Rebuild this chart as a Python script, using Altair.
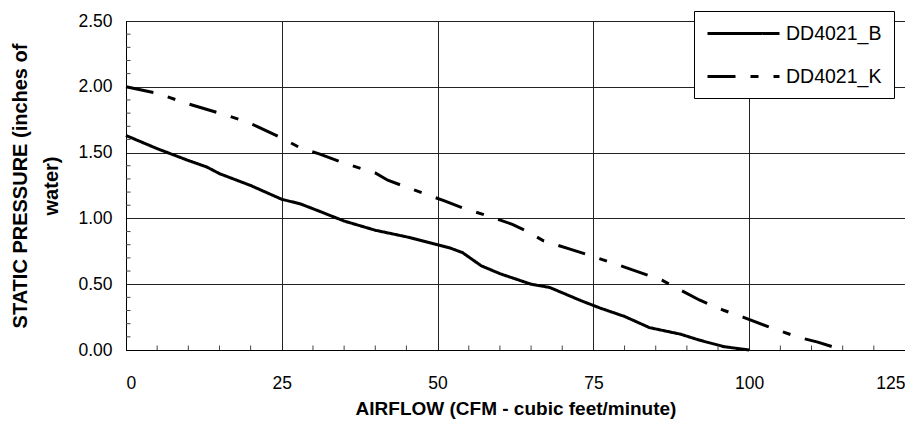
import altair as alt
import pandas as pd

# Series data
b_x = [0, 5, 10, 13, 15, 20, 25, 28, 31, 35, 40, 45, 50, 52, 54, 57, 60, 65, 68, 73, 76, 80, 84, 89, 92, 96, 100]
b_y = [1.63, 1.53, 1.44, 1.39, 1.34, 1.25, 1.145, 1.11, 1.055, 0.98, 0.91, 0.86, 0.80, 0.775, 0.74, 0.64, 0.58,
       0.50, 0.475, 0.375, 0.32, 0.255, 0.17, 0.12, 0.075, 0.025, 0.0]
k_x = [0, 5, 10, 15, 19, 21, 25, 28, 31, 35, 40, 42, 46, 51, 54, 58, 62, 64, 67, 71, 75, 80, 83, 86, 88, 92, 96,
       99, 104, 108, 111, 115]
k_y = [2.0, 1.95, 1.87, 1.80, 1.74, 1.70, 1.61, 1.535, 1.49, 1.42, 1.345, 1.29, 1.22, 1.135, 1.08, 1.02, 0.955,
       0.91, 0.83, 0.77, 0.71, 0.63, 0.58, 0.53, 0.48, 0.38, 0.30, 0.25, 0.16, 0.095, 0.06, 0.0]
series_names = ["DD4021_B", "DD4021_K"]

x_ticks = [0, 25, 50, 75, 100, 125]
y_ticks = [0.0, 0.5, 1.0, 1.5, 2.0, 2.5]
x_minor = [5, 10, 15, 20, 30, 35, 40, 45, 55, 60, 65, 70, 80, 85, 90, 95, 105, 110, 115, 120]
y_minor = [0.1, 0.2, 0.3, 0.4, 0.6, 0.7, 0.8, 0.9, 1.1, 1.2, 1.3, 1.4, 1.6, 1.7, 1.8, 1.9, 2.1, 2.2, 2.3, 2.4]

W, H = 779, 329
FONT = "Liberation Sans"

df = pd.concat([
    pd.DataFrame({"x": b_x, "y": b_y, "series": series_names[0]}),
    pd.DataFrame({"x": k_x, "y": k_y, "series": series_names[1]}),
])

xscale = alt.Scale(domain=[0, 125], nice=False, zero=False)
yscale = alt.Scale(domain=[0, 2.5], nice=False, zero=False)

lines = alt.Chart(df).mark_line(color="black", strokeWidth=3, strokeCap="butt").encode(
    x=alt.X("x:Q", scale=xscale, axis=alt.Axis(
        values=x_ticks, title="AIRFLOW (CFM - cubic feet/minute)", grid=True,
        labelPadding=24, titlePadding=8, titleFontSize=19)),
    y=alt.Y("y:Q", scale=yscale, axis=alt.Axis(
        values=y_ticks, format=".2f", title=["STATIC PRESSURE (inches of", "water)"], grid=True,
        labelPadding=14, titlePadding=16, titleLineHeight=31)),
    strokeDash=alt.StrokeDash("series:N", scale=alt.Scale(domain=series_names, range=[[1, 0], [28, 15, 8, 15]]),
                              legend=alt.Legend(
                                  orient="none", legendX=568, legendY=-10, title=None,
                                  strokeColor="black", fillColor="white", padding=12,
                                  rowPadding=23, labelOffset=59, labelFont=FONT, labelFontSize=19.5,
                                  labelColor="black", symbolType="M-1,0H7", symbolSize=324,
                                  symbolStrokeWidth=3, symbolStrokeColor="black", cornerRadius=0)),
    order="x:Q",
)

minor_x_layer = alt.Chart(pd.DataFrame({"x": x_minor})).mark_rule(color="#444", strokeWidth=1).encode(
    x=alt.X("x:Q"),
    y=alt.value(H), y2=alt.value(H - 4.5),
)
minor_y_layer = alt.Chart(pd.DataFrame({"y": y_minor})).mark_rule(color="#444", strokeWidth=1).encode(
    y=alt.Y("y:Q"),
    x=alt.value(0), x2=alt.value(4.5),
)

chart = alt.layer(lines, minor_x_layer, minor_y_layer).properties(
    width=W, height=H, background="white",
    padding={"left": 2, "top": 2, "right": 0, "bottom": 0}
).configure_view(
    stroke="black", strokeWidth=1
).configure_axis(
    ticks=False, domainColor="black", domainWidth=1, gridColor="#222", gridWidth=1,
    labelFont=FONT, labelFontSize=17.5, labelColor="black",
    titleFont=FONT, titleFontSize=20, titleFontWeight="bold", titleColor="black",
)

chart.save("out.html", embed_options={"renderer": "svg", "actions": False})
